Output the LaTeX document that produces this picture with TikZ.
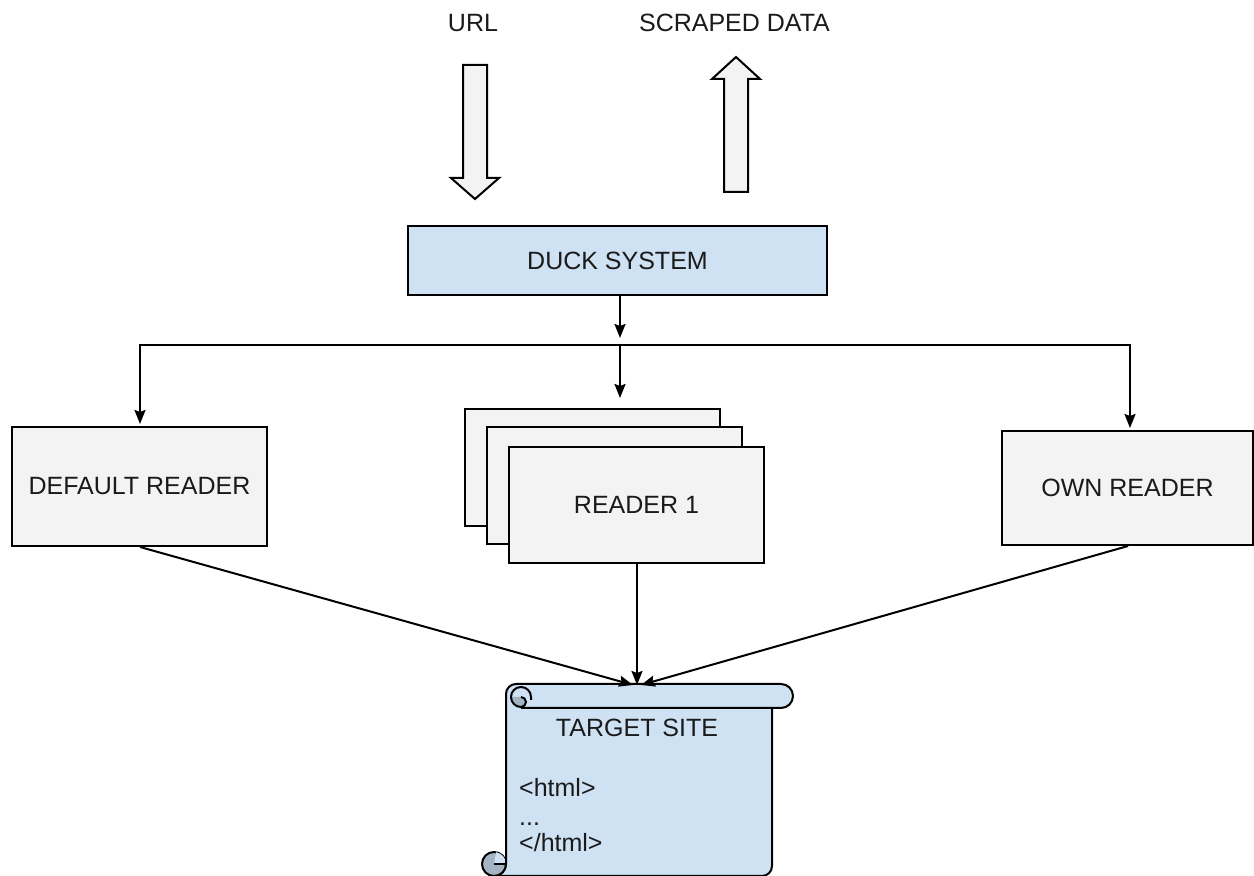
\documentclass[tikz,border=0pt]{standalone}
\usepackage{fontspec}
\setmainfont{Liberation Sans}
\usetikzlibrary{arrows.meta}
\definecolor{boxgray}{HTML}{F3F3F3}
\definecolor{boxblue}{HTML}{CFE2F3}
\definecolor{curl}{HTML}{A4B4C4}
\definecolor{txt}{HTML}{1A1A1A}
\begin{document}
\begin{tikzpicture}[x=1pt,y=1pt,
  lbl/.style={font=\fontsize{25}{30}\selectfont, text=txt, inner sep=0pt},
  box/.style={draw=black, line width=2pt, fill=boxgray, inner sep=0pt,
    font=\fontsize{25}{30}\selectfont, text=txt},
  arr/.style={line width=2pt, -{Stealth[length=14pt,width=11pt,inset=2pt]}},
  conn/.style={line width=2pt},
  fat/.style={draw=black, line width=2pt, fill=boxgray, line join=miter}]
\useasboundingbox (0,0) rectangle (1254,876);

% top labels and fat arrows
\node[lbl] (url) at (473,853) {URL};
\node[lbl] (scraped) at (734.5,853) {SCRAPED DATA};
\draw[fat] (463,811) -- (487,811) -- (487,698) -- (499,698) -- (475,677)
  -- (451,698) -- (463,698) -- cycle;
\draw[fat] (724,684) -- (748,684) -- (748,797) -- (760,797) -- (736,819)
  -- (712,797) -- (724,797) -- cycle;

% duck system
\node[box, fill=boxblue, minimum width=419pt, minimum height=69pt] (duck) at (617.5,615.5) {DUCK SYSTEM};

% readers
\node[box, minimum width=255pt, minimum height=119pt] (default) at (139.5,389.5) {DEFAULT READER};
\node[box, minimum width=251pt, minimum height=114pt] (own) at (1127.5,388) {OWN READER};
\node[box, minimum width=255pt, minimum height=117pt] (back) at (592.5,408.5) {};
\node[box, minimum width=255pt, minimum height=117pt] (mid) at (614.5,390.5) {};
\node[box, minimum width=255pt, minimum height=116pt] (front) at (636.5,371) {READER 1};

% branch connectors
\coordinate (j) at (620,531);
\coordinate (jl) at (140,531);
\coordinate (jr) at (1130,531);
\coordinate (dtip) at (620,538);
\coordinate (mtip) at (620,478);
\draw[arr] (duck.south -| j) -- (dtip);
\draw[conn] ([xshift=-1pt]jl) -- ([xshift=1pt]jr);
\draw[arr] (jl) -- ([yshift=2pt]default.north -| jl);
\draw[arr] (jr) -- ([yshift=2pt]own.north -| jr);
\draw[arr] (j) -- (mtip);

% target site scroll
\coordinate (tgt) at (637,191);
\begin{scope}[line width=2pt, line join=round]
  % body
  \draw[fill=boxblue] (506,180) -- (506,12) arc (0:-90:12) -- (762,0) arc (-90:0:10) -- (772,180) -- cycle;
  % bottom curl
  \draw[fill=curl] (494,12) circle (12);
  \fill[boxblue] (494,12) -- (506,12) arc (0:80:12) -- cycle;
  \draw (494,12) -- (506,12) -- (506,24);
  % top roll
  \draw[fill=boxblue] (506,168) -- (506,182) arc (180:90:10) -- (781,192) arc (90:-90:12) -- (521,168);
  \fill[curl] (511,179) arc (180:270:10) arc (-90:90:5) -- cycle;
  \draw (531,176) -- (531,179) arc (0:270:10) arc (-90:90:5);
\end{scope}
\node[lbl] (target) at (637,148.5) {TARGET SITE};
\node[lbl, anchor=base west] (html1) at (519,79) {<html>};
\node[lbl, anchor=base west] (dots) at (519,50) {...};
\node[lbl, anchor=base west] (html2) at (519,24) {</html>};

% connectors to target
\draw[arr] ([xshift=0.5pt]default.south) -- ([xshift=-4pt]tgt);
\draw[arr] ([xshift=0.5pt]front.south) -- ([xshift=0.5pt]front.south |- tgt);
\draw[arr] ([xshift=0.5pt]own.south) -- ([xshift=4pt]tgt);
\end{tikzpicture}
\end{document}
